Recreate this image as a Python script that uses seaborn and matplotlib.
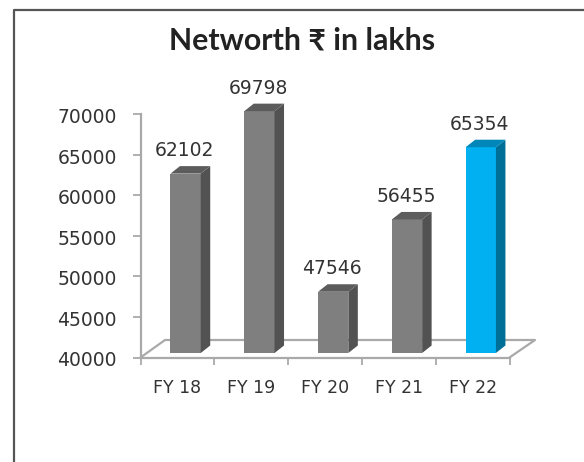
import matplotlib
matplotlib.use("Agg")
import matplotlib.pyplot as plt
from matplotlib.patches import Polygon
from matplotlib.lines import Line2D
from matplotlib.transforms import IdentityTransform, ScaledTranslation
import seaborn as sns

categories = ['FY 18', 'FY 19', 'FY 20', 'FY 21', 'FY 22']
networth = [62102, 69798, 47546, 56455, 65354]
y_ticks = [40000, 45000, 50000, 55000, 60000, 65000, 70000]
bar_colors = ['#7f7f7f', '#7f7f7f', '#7f7f7f', '#7f7f7f', '#00b0f0']
side_colors = ['#525252', '#525252', '#525252', '#525252', '#006f98']
top_colors = ['#5c5c5c', '#5c5c5c', '#5c5c5c', '#5c5c5c', '#0086b8']

W, H = 584, 462
AXIS = '#a9a9a9'
TEXT = '#333333'

sns.set_style("white")
plt.rcParams['font.family'] = ['DejaVu Sans']
fig = plt.figure(figsize=(W / 100, H / 100), dpi=100)
ax = fig.add_axes([140.5 / W, (H - 357.5) / H, 369 / W, 243.5 / H])
ax.patch.set_alpha(0)

sns.barplot(x=categories, y=networth, hue=categories, palette=bar_colors, legend=False,
            width=0.41, ax=ax, zorder=3)
ax.set_ylim(y_ticks[0], y_ticks[-1])
ax.set_xlim(-0.5, 4.5)
ax.set_yticks(y_ticks)
ax.set_xticks([-0.5, 0.5, 1.5, 2.5, 3.5, 4.5])
ax.set_xticklabels([])
ax.set_xlabel('')
ax.set_ylabel('')
for s in ['top', 'right']:
    ax.spines[s].set_visible(False)
for s in ['left', 'bottom']:
    ax.spines[s].set_color(AXIS)
    ax.spines[s].set_linewidth(1.6)
ax.tick_params(axis='y', length=6, width=1.3, color=AXIS, labelsize=13.5, labelcolor=TEXT, pad=11, left=True)
ax.tick_params(axis='x', length=5, width=1.3, color=AXIS, bottom=True)

# tick labels sit a little below their ticks in the original
down = ScaledTranslation(0, -1.5 / 100, fig.dpi_scale_trans)
for lab in ax.get_yticklabels():
    lab.set_transform(lab.get_transform() + down)

# category names sit between the ticks
for i, c in enumerate(categories):
    ax.annotate(c, (i, y_ticks[0]), xytext=(0, -31 * 0.72), textcoords='offset points',
                ha='center', va='center', fontsize=12.5, color=TEXT)

# floor of the 3d box, in pixels from the axes corners
x0, y0 = ax.transAxes.transform((0, 0))
x1, y1 = ax.transAxes.transform((1, 0))
floor_dx, floor_dy = 24.5, 17.5
fig.add_artist(Line2D([x0, x0 + floor_dx, x1 + floor_dx + 1, x1],
                      [y0, y0 + floor_dy, y0 + floor_dy, y1],
                      transform=IdentityTransform(), color=AXIS, lw=1.6, zorder=1))

# 3d look: shift the front faces, add side and top
shift_x, shift_y = 8.2, 4.5
depth_x, depth_y = 9.5, 7.5
bars = [p for p in ax.patches]
for i, (bar, value) in enumerate(zip(bars, networth)):
    bar.set_visible(False)
    cx = bar.get_x()
    w = bar.get_width()
    xa, ya = ax.transData.transform((cx, y_ticks[0]))
    xb, yb = ax.transData.transform((cx + w, value))
    xa, xb = xa + shift_x, xb + shift_x
    ya, yb = ya + shift_y, yb + shift_y
    face = Polygon([(xa, ya), (xb, ya), (xb, yb), (xa, yb)], closed=True, transform=IdentityTransform(),
                   facecolor=bar_colors[i], edgecolor='none', zorder=4)
    side = Polygon([(xb, ya), (xb + depth_x, ya + depth_y), (xb + depth_x, yb + depth_y), (xb, yb)],
                   closed=True, transform=IdentityTransform(), facecolor=side_colors[i], edgecolor='none', zorder=4)
    top = Polygon([(xa, yb), (xb, yb), (xb + depth_x, yb + depth_y), (xa + depth_x, yb + depth_y)],
                  closed=True, transform=IdentityTransform(), facecolor=top_colors[i], edgecolor='none', zorder=4)
    for poly in (face, side, top):
        fig.add_artist(poly)
    fig.text((xa + xb) / 2 / W - 0.002, (yb + 23) / H, str(value), ha='center', va='center',
             fontsize=13.5, color=TEXT)

# frame of the page, only left and top show
fig.add_artist(Line2D([14 / W, 14 / W, 1], [0, 1 - 9.5 / H, 1 - 9.5 / H], transform=fig.transFigure,
                      color='#555555', lw=1.6))

fig.text(302 / W, 1 - 41 / H, 'Networth ₹ in lakhs', ha='center', va='center', fontsize=21.8,
         fontweight='bold', color='#222222', family=['Lato', 'DejaVu Sans'])

fig.savefig('out.png', dpi=100)
